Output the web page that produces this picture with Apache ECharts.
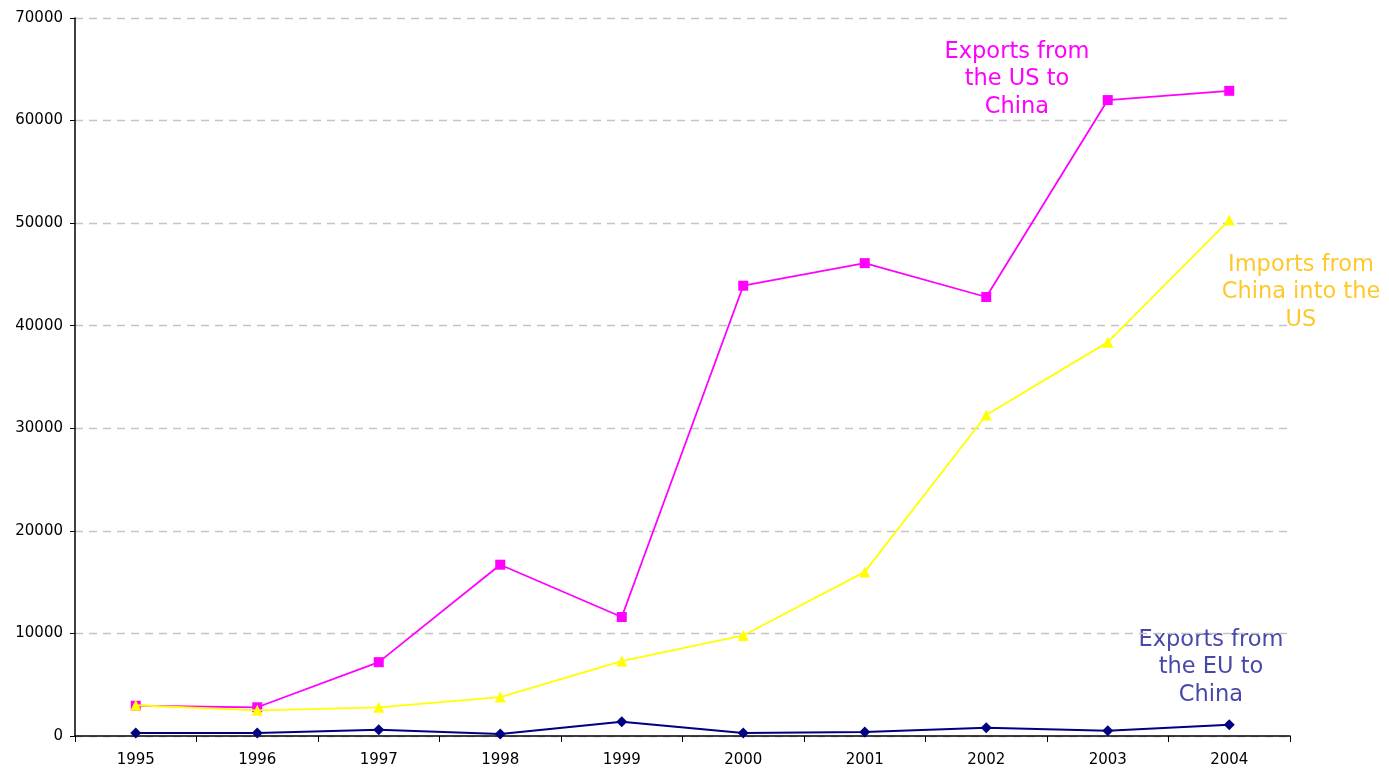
<!DOCTYPE html>
<html><head><meta charset="utf-8">
<script src="https://cdn.jsdelivr.net/npm/echarts@6/dist/echarts.min.js"></script>
<style>html,body{margin:0;padding:0;background:#fff}#c{width:1389px;height:771px}</style>
</head><body><div id="c"></div>
<script>
const years = ['1995','1996','1997','1998','1999','2000','2001','2002','2003','2004'];
const usExports = [2950, 2800, 7200, 16700, 11600, 43900, 46100, 42800, 62000, 62900];
const usImports = [3000, 2500, 2800, 3800, 7300, 9800, 16000, 31300, 38400, 50300];
const euExports = [300, 300, 600, 200, 1400, 300, 400, 800, 500, 1100];
const yTicks = [0, 10000, 20000, 30000, 40000, 50000, 60000, 70000];

const chart = echarts.init(document.getElementById('c'));
const lblFont = 'DejaVu Sans, Verdana, sans-serif';
const tickFont = 'DejaVu Sans, Verdana, sans-serif';
chart.setOption({
  animation: false,
  backgroundColor: '#fff',
  grid: {left: 75, right: 99, top: 18, bottom: 35},
  xAxis: {
    type: 'category', data: years, boundaryGap: true,
    axisLine: {lineStyle: {color: '#000', width: 1.5}},
    axisTick: {show: true, length: 6, lineStyle: {color: '#000'}},
    axisLabel: {color: '#000', fontSize: 15, fontFamily: tickFont, margin: 17}
  },
  yAxis: {
    type: 'value', min: yTicks[0], max: yTicks[yTicks.length-1], interval: 10000,
    axisLine: {show: true, lineStyle: {color: '#000', width: 1.5}},
    axisTick: {show: true, length: 5, lineStyle: {color: '#000'}},
    axisLabel: {color: '#000', fontSize: 15, fontFamily: tickFont, margin: 12,
      formatter: v => String(v)},
    splitLine: {show: true, lineStyle: {color: '#c4c4c4', type: [8, 6], width: 1.3}}
  },
  series: [
    {name: 'Exports from the US to China', type: 'line', data: usExports,
     symbol: 'rect', symbolSize: 10, lineStyle: {color: '#ff00ff', width: 1.8},
     itemStyle: {color: '#ff00ff'}, z: 2},
    {name: 'Imports from China into the US', type: 'line', data: usImports,
     symbol: 'triangle', symbolSize: 11, lineStyle: {color: '#ffff00', width: 1.8},
     itemStyle: {color: '#ffff00'}, z: 3},
    {name: 'Exports from the EU to China', type: 'line', data: euExports,
     symbol: 'diamond', symbolSize: 11, lineStyle: {color: '#000080', width: 2},
     itemStyle: {color: '#000080'}, z: 4}
  ],
  graphic: [
    {type: 'text', x: 1017, y: 38, style: {text: 'Exports from\nthe US to\nChina', fill: '#ff00ff', font: '22.5px ' + lblFont, align: 'center', verticalAlign: 'top', lineHeight: 27.5}},
    {type: 'text', x: 1301, y: 251, style: {text: 'Imports from\nChina into the\nUS', fill: '#ffc82a', font: '22.5px ' + lblFont, align: 'center', verticalAlign: 'top', lineHeight: 27.5}},
    {type: 'text', x: 1211, y: 626, style: {text: 'Exports from\nthe EU to\nChina', fill: '#4848a8', font: '22.5px ' + lblFont, align: 'center', verticalAlign: 'top', lineHeight: 27.5}}
  ]
});
</script></body></html>
